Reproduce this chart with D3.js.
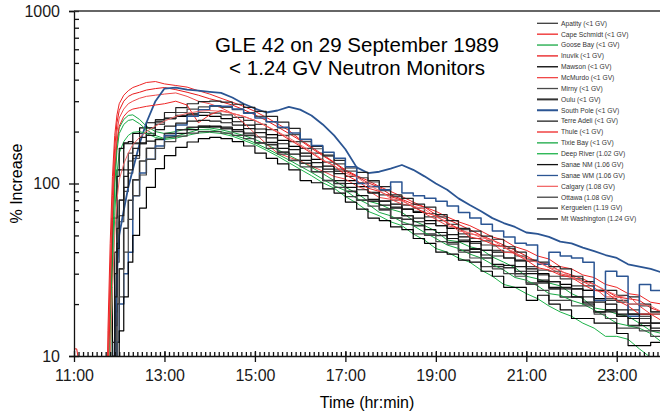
<!DOCTYPE html>
<html>
<head>
<meta charset="utf-8">
<script src="https://cdn.jsdelivr.net/npm/d3@7"></script>
<style>
  body { margin: 0; background: #fff; }
  svg text { font-family: "Liberation Sans", Arial, sans-serif; }
</style>
</head>
<body>
<div id="graph"></div>
<script>
// time axis, decimal hours UT
const hours = [11.0, 11.06, 11.7, 11.75, 11.8, 11.85, 11.9, 11.95, 12.0, 12.1, 12.2, 12.3, 12.45, 12.6, 12.8, 13.0,
  13.25, 13.5, 13.75, 14.0, 14.25, 14.5, 14.75, 15.0, 15.25, 15.5, 15.75, 16.0, 16.25, 16.5, 16.75, 17.0,
  17.25, 17.5, 17.75, 18.0, 18.25, 18.5, 18.75, 19.0, 19.25, 19.5, 19.75, 20.0, 20.25, 20.5, 20.75, 21.0,
  21.25, 21.5, 21.75, 22.0, 22.25, 22.5, 22.75, 23.0, 23.25, 23.5, 23.75, 24.0];

// % increase for each station (1 = below the plotted range)
const apatity = [1,1,1,1,1,1,18,45,80,120,150,172,195,210,225,238,248,255,258,256,250,242,232,220,205,190,175,160,150,133,121,110,101,96,86,80,71,69,64,61,55,51,45,44,41,40,35.5,33,29.5,29,28,25.5,24,21,21,20.5,18.5,16.5,17.5,15.5];
const capeSchmidt = [1,1,1,14,45,110,190,250,290,325,345,360,372,385,390,378,370,362,345,330,312,296,280,262,242,222,203,180,163,147,133,120,111,104,96,90,84,78,73,69,64,60,57,53,49,47,43,41,38,36.5,33,32,29.5,28.5,26,25,23,22.5,20.5,20];
const gooseBay = [1,1,1,1,15,45,110,170,210,235,248,250,235,215,200,195,200,208,212,210,205,198,190,180,168,157,146,135,124,114,104,95,88,79,76,71,68,61,57,53,47,46,43,41.5,37.5,35,32.5,29,28,26.5,25.5,23,21.5,19,18.5,17.5,17,15.5,14,13.5];
const inuvik = [11,11,1,10,30,85,160,225,265,300,320,330,338,348,355,360,350,338,325,310,298,285,268,250,232,213,195,178,160,145,132,118,110,101,95,86,81,76,73,66,62,58,54,50,47,44,41,38,35,34,31,29.5,28,26,24,22,21.5,21,19,18];
const mawson = [1,1,1,1,1,63,63,120,120,170,170,195,210,225,230,238,245,250,248,245,238,228,218,207,192,178,164,150,138,126,118,104,96,89,79,76,71,68,61,57,55,49,46,41,40,37,36,32,30,27,26,24.5,24,21.5,20,17.5,17.5,17.5,15.5,13.5];
const mcMurdo = [1,1,1,8,25,70,140,200,240,270,290,300,312,320,325,330,335,320,300,290,275,255,225,195,170,150,142,135,126,118,110,106,97,91,83,81,76,74,67,62,57,55,51,50,45,40,39.5,37,35.5,32.5,30,29,27,25,22,22,22.5,19.5,17.5,17.5];
const mirny = [1,1,1,1,1,1,15,35,60,90,115,140,170,195,220,240,258,270,278,280,276,268,258,245,228,210,192,175,159,144,130,118,108,102,91,84,75,72,67,64,58,54,48,46.5,43.5,42,38,35.5,31.5,31,29,28,25.5,24,21.5,21,20,19.5,18,17];
const oulu = [1,1,1,1,1,1,10,20,32,55,80,105,135,160,180,195,205,212,215,213,208,200,190,172,168,152,136,131,117,104,100,90,80,79,71,63,62,57,51,50,45.5,41,40,37,33,32.5,30,26.5,26.5,24.5,22,22,20,18,18.5,17,15,15.5,14,12.5];
const southPole = [1,1,1,1,1,1,12,30,50,70,95,120,170,225,300,355,360,350,345,340,335,315,290,272,258,265,278,268,248,220,190,158,124,115,117,122,128,120,110,100,92,82,75,69,63,59,56,52,51,49,46,45,42.5,40.5,38.5,37,34,33,32,30.5];
const terreAdeli = [1,1,1,1,1,12,30,55,80,110,135,160,185,210,235,258,275,290,298,300,296,288,276,262,245,227,209,180,164,146,136,123,116,104,96,86,82,76,73,66,61,55,53,49.5,47.5,43,40,36,35,33,32,29,27,24,24,22.5,22,20,18,18];
const thule = [1,1,1,6,20,60,120,175,215,245,262,270,275,280,285,290,300,285,225,250,265,255,245,232,215,198,180,165,150,136,127,112,104,94,90,84,80,73,68,65,59,55,49,47.5,44.5,43,39,36,32.5,31.5,29.5,28.5,26,24,23.5,21,19.5,17.5,17.5,16];
const tixieBay = [1,1,1,1,12,38,95,155,195,220,232,235,222,205,190,182,188,196,205,205,200,192,183,172,160,148,137,126,116,106,97,91,82,76,68,65,60,57,52,48,44,42,39,37,34,31.5,28.5,27.5,25.5,23,22.5,21,20,18.5,17,15.5,15,14.5,13.5,12];
const deepRiver = [1,1,1,1,8,25,65,115,150,175,190,198,200,195,185,180,183,190,196,198,195,188,178,168,156,144,132,121,111,101,94,84,77,69,65,60,57,51,47,42,40,37,35,31.5,29,26,25,23,21.5,19.5,18,17,15.5,14.5,13,13,12.5,11,9.8,9.5];
const sanaeNM = [1,1,1,1,1,1,40,110,160,172,175,170,172,176,180,186,195,205,212,215,212,205,196,186,173,160,148,136,125,117,104,95,85,81,75,72,65,60,54,52,48,46,41.5,38.5,34,33.5,31,30,27,25,24.5,22,20.5,18,18,17,16.5,15,14.5,13];
const sanaeWM = [1,1,1,1,1,1,1,12,20,30,40,85,115,138,165,190,218,245,268,282,280,270,255,240,228,212,196,180,166,152,140,125,100,96,92,102,88,85,82,79,74,68,63,58,53,49,45,44,34,40,38,37,35,21,31,29,17,26,24,21];
const calgary = [1,1,1,1,10,25,50,80,105,130,150,168,185,200,215,230,245,255,262,265,262,255,245,232,216,200,184,168,153,137,127,115,109,98,91,82,79,74,71,64,60,53,52,48.5,47,42.5,40,36,35,32.5,31.5,28.5,27,26,24,22.5,20,20,19.5,18];
const ottawa = [1,1,1,1,1,1,1,12,22,40,62,85,112,138,160,175,188,196,200,200,196,190,182,172,160,148,136,125,117,104,95,84,80,74,70,63,58,51,50,46,44.5,40,37,33,32,30,29,26,24,21,21,19.5,19.5,17.5,16.5,14.5,14.5,14,13,11.5];
const kerguelen = [1,1,1,1,1,10,22,42,65,95,120,145,170,190,205,215,224,230,232,230,225,218,208,197,184,170,157,144,132,121,114,100,92,88,79,73,65,63,58.5,57,50.5,47,42,41,38,37,33,31,27.5,27,25,24.5,22,20.5,18.5,18.5,17.5,17,15.5,13.5];
const mtWashington = [1,1,1,1,1,1,1,1,14,22,35,50,72,95,122,145,162,174,182,185,182,175,165,150,140,130,120,104,101,93,88,78,71,63,61,56,54,48,45,40,39,36,35,31,29,25,25,21,22.5,20,18.5,16.5,16.5,15.5,15.5,13.5,11.5,11.5,12,10.5];

const stationNames = ["Apatity (<1 GV)", "Cape Schmidt (<1 GV)", "Goose Bay (<1 GV)", "Inuvik (<1 GV)",
  "Mawson (<1 GV)", "McMurdo (<1 GV)", "Mirny (<1 GV)", "Oulu (<1 GV)", "South Pole (<1 GV)",
  "Terre Adeli (<1 GV)", "Thule (<1 GV)", "Tixie Bay (<1 GV)", "Deep River (1.02 GV)", "Sanae NM (1.06 GV)",
  "Sanae WM (1.06 GV)", "Calgary (1.08 GV)", "Ottawa (1.08 GV)", "Kerguelen (1.19 GV)", "Mt Washington (1.24 GV)"];
const stationValues = [apatity, capeSchmidt, gooseBay, inuvik, mawson, mcMurdo, mirny, oulu, southPole,
  terreAdeli, thule, tixieBay, deepRiver, sanaeNM, sanaeWM, calgary, ottawa, kerguelen, mtWashington];

const yMajor = [10, 100, 1000];
const yMinor = [20, 30, 40, 50, 60, 70, 80, 90, 200, 300, 400, 500, 600, 700, 800, 900];
const xMajor = [11, 13, 15, 17, 19, 21, 23];

// line style per station: colour, width, stepped
const RED = "#ee2626", GREEN = "#17a843", BLUE = "#2b5593";
const styles = [
  ["#3c3c3c", 1.2, true], [RED, 1, false], [GREEN, 1, false], ["#e8191b", 1, false],
  ["#000", 1.2, true], ["#f04848", 1, false], ["#4a4a4a", 1.2, true], ["#333", 1.6, true],
  [BLUE, 1.8, false], ["#222", 1.2, true], [RED, 1, false], [GREEN, 1, false],
  ["#1db34a", 1, false], ["#111", 1.2, true], [BLUE, 1.5, true], ["#f26a6a", 1, false],
  ["#444", 1.2, true], ["#1a1a1a", 1.2, true], ["#000", 1.2, true]
];

//setup and return svg
function setupSVG(margin, width, height) {
  return d3
    .select("#graph")
    .append("svg")
    .attr("width", 660)
    .attr("height", 417)
    .append("g")
    .attr("transform", "translate(" + margin.left + "," + margin.top + ")");
}

//one path per station, clipped to the plot box
function addLines(svg, series, x, y, width, height) {
  svg.append("clipPath").attr("id", "plotClip")
    .append("rect").attr("x", 0).attr("y", 0).attr("width", width).attr("height", height);

  const g = svg.append("g").attr("clip-path", "url(#plotClip)");
  series.forEach(function (s, i) {
    const line = d3.line()
      .x(function (d) { return x(d.t); })
      .y(function (d) { return y(d.v); })
      .curve(styles[i][2] ? d3.curveStepAfter : d3.curveLinear);
    g.append("path")
      .datum(s.points)
      .attr("fill", "none")
      .attr("stroke", styles[i][0])
      .attr("stroke-width", styles[i][1])
      .attr("stroke-linejoin", "round")
      .attr("d", line);
  });
}

//axes, ticks crossing the axis lines like the excel original
function addAxes(svg, width, height, x, y) {
  const yAxis = svg.append("g")
    .call(d3.axisLeft(y).tickValues(yMajor).tickFormat(d3.format("d")).tickSize(5).tickPadding(9));
  yAxis.selectAll(".tick line").attr("x1", 5);
  svg.append("g")
    .call(d3.axisRight(y).tickValues(yMinor).tickFormat("").tickSize(5))
    .select(".domain").remove();

  const xAxis = svg.append("g")
    .attr("transform", "translate(0," + height + ")")
    .call(d3.axisBottom(x).tickValues(xMajor).tickFormat(function (d) { return d + ":00"; })
      .tickSize(6).tickSizeOuter(0).tickPadding(8));
  xAxis.selectAll(".tick line").attr("y1", -5);
  svg.append("g")
    .attr("transform", "translate(0," + height + ")")
    .call(d3.axisTop(x).tickValues(d3.range(111, 240).map(function (d) { return d / 10; }))
      .tickFormat("").tickSize(4))
    .select(".domain").remove();

  svg.selectAll(".tick text").style("font-size", "16px").attr("fill", "#1a1a1a");
  svg.selectAll(".domain, .tick line").attr("stroke", "#111").attr("stroke-width", 1.3);

  // top frame line
  svg.append("line")
    .attr("x1", 0).attr("x2", width)
    .attr("y1", 0).attr("y2", 0)
    .attr("stroke", "#333").attr("stroke-width", 1.5);

  svg.append("text")
    .attr("transform", "translate(-52," + height / 2 + ") rotate(-90)")
    .attr("text-anchor", "middle")
    .style("font-size", "16px")
    .text("% Increase");
  svg.append("text")
    .attr("x", 293).attr("y", height + 52)
    .attr("text-anchor", "middle")
    .style("font-size", "16px")
    .text("Time (hr:min)");
}

function addTitle(svg) {
  svg.append("text").attr("x", 283).attr("y", 41).attr("text-anchor", "middle")
    .style("font-size", "20.5px").text("GLE 42 on 29 September 1989");
  svg.append("text").attr("x", 283).attr("y", 64).attr("text-anchor", "middle")
    .style("font-size", "20.5px").text("< 1.24 GV Neutron Monitors");
}

function addLegend(svg, names) {
  const startY = 12.3, padding = 10.87;
  const rows = svg.append("g").selectAll("g")
    .data(names)
    .enter()
    .append("g")
    .attr("transform", function (d, i) { return "translate(463," + (startY + i * padding) + ")"; });
  rows.append("line")
    .attr("x1", 0).attr("x2", 21)
    .attr("stroke", function (d, i) { return styles[i][0]; })
    .attr("stroke-width", function (d, i) { return styles[i][1] > 1.5 ? 2 : 1.3; });
  rows.append("text")
    .attr("x", 24).attr("dy", "0.35em")
    .style("font-size", "6.7px")
    .attr("fill", "#333")
    .text(function (d) { return d; });
}

const margin = { top: 11, left: 74 };
const width = 588, height = 345;
const x = d3.scaleLinear().domain([11, 24]).range([0, width]);
const y = d3.scaleLog().domain([10, 1000]).range([height, 0]);

const series = stationNames.map(function (name, i) {
  return { name: name, points: hours.map(function (t, j) { return { t: t, v: stationValues[i][j] }; }) };
});

const svg = setupSVG(margin, width, height);
addLines(svg, series, x, y, width, height);
addAxes(svg, width, height, x, y);
addTitle(svg);
addLegend(svg, stationNames);
</script>
</body>
</html>
